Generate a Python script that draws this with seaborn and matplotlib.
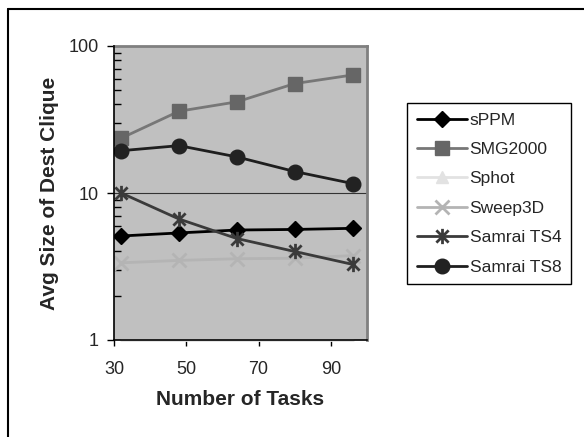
import numpy as np
import pandas as pd
import matplotlib
matplotlib.use("Agg")
import matplotlib.pyplot as plt
from matplotlib.path import Path
from matplotlib.lines import Line2D
from matplotlib.ticker import LogLocator, FixedLocator, NullFormatter
import seaborn as sns

# ---- data -------------------------------------------------------------
tasks = [32, 48, 64, 80, 96]
sppm = [5.1, 5.35, 5.6, 5.65, 5.75]
smg2000 = [23.6, 36.0, 41.7, 55.5, 63.5]
sphot = [1.0, 1.0, 1.0, 1.0, 1.0]
sweep3d = [3.35, 3.48, 3.57, 3.6, 3.75]
samrai_ts4 = [10.0, 6.65, 4.9, 4.0, 3.27]
samrai_ts8 = [19.4, 21.0, 17.6, 14.0, 11.6]

series_names = ["sPPM", "SMG2000", "Sphot", "Sweep3D", "Samrai TS4", "Samrai TS8"]
series_values = [sppm, smg2000, sphot, sweep3d, samrai_ts4, samrai_ts8]
x_ticks = [30, 50, 70, 90]
y_ticks = [1, 10, 100]

# asterisk marker: an "x" with a vertical bar through it
asterisk = Path(
    [(-1, -1), (1, 1), (-1, 1), (1, -1), (0, -1.25), (0, 1.25)],
    [Path.MOVETO, Path.LINETO, Path.MOVETO, Path.LINETO, Path.MOVETO, Path.LINETO],
)

styles = {
    "sPPM":       dict(color="#000000", marker="D", ms=8.5, mew=1.0, mfc="#000000"),
    "SMG2000":    dict(color="#777777", marker="s", ms=10, mew=1.0, mfc="#666666"),
    "Sphot":      dict(color="#e2e2e2", marker="^", ms=9, mew=1.0, mfc="#e2e2e2"),
    "Sweep3D":    dict(color="#b4b4b4", marker="x", ms=10, mew=2.0, mfc="none"),
    "Samrai TS4": dict(color="#3a3a3a", marker=asterisk, ms=11, mew=2.0, mfc="none"),
    "Samrai TS8": dict(color="#1e1e1e", marker="o", ms=10.5, mew=1.0, mfc="#222222"),
}

df = pd.DataFrame(
    [(n, t, v) for n, vals in zip(series_names, series_values) for t, v in zip(tasks, vals)],
    columns=["series", "tasks", "value"],
)

# ---- figure -----------------------------------------------------------
sns.set_theme(style="white")
plt.rcParams["font.family"] = ["Liberation Sans", "DejaVu Sans"]

fig = plt.figure(figsize=(5.84, 4.37), dpi=100)
ax = fig.add_axes([114 / 584, 1 - 340 / 437, 253 / 584, 294 / 437])
ax.set_facecolor("#c0c0c0")

for name in series_names:
    st = styles[name]
    sub = df[df["series"] == name]
    sns.lineplot(
        data=sub, x="tasks", y="value", ax=ax, label=name,
        color=st["color"], marker=st["marker"], markersize=st["ms"],
        markeredgewidth=st["mew"], markeredgecolor=st["color"] if st["mfc"] == "none" else st["mfc"],
        markerfacecolor=st["mfc"], linewidth=2.0, errorbar=None,
        clip_on=(name != "Sphot"), zorder=3,
    )

ax.set_yscale("log")
ax.set_xlim(30, 100)
ax.set_ylim(1, 100)
ax.xaxis.set_major_locator(FixedLocator(x_ticks))
ax.yaxis.set_major_locator(FixedLocator(y_ticks))
ax.yaxis.set_minor_locator(LogLocator(base=10, subs=np.arange(2, 10)))
ax.yaxis.set_minor_formatter(NullFormatter())
ax.set_yticklabels([str(v) for v in y_ticks])
ax.set_xticklabels([str(v) for v in x_ticks])

ax.tick_params(axis="x", which="major", direction="out", length=4, width=1,
               color="black", labelsize=13, pad=11, bottom=True)
ax.tick_params(axis="y", which="major", direction="out", length=5, width=1,
               color="black", labelsize=13, pad=6, left=True)
ax.tick_params(axis="y", which="minor", direction="in", length=5, width=1,
               color="black", left=True)

ax.grid(False)
ax.axhline(10, color="#333333", linewidth=0.8, zorder=1)

for side in ("left", "bottom"):
    ax.spines[side].set_color("black")
    ax.spines[side].set_linewidth(1.2)
    ax.spines[side].set_zorder(4)
for side in ("top", "right"):
    ax.spines[side].set_color("#808080")
    ax.spines[side].set_linewidth(2.0)

ax.set_xlabel("Number of Tasks", fontsize=15, fontweight="bold", labelpad=9)
ax.set_ylabel("Avg Size of Dest Clique", fontsize=15, fontweight="bold", labelpad=7)

leg = ax.legend(
    loc="upper left", bbox_to_anchor=(407 / 584, 1 - 103 / 437),
    bbox_transform=fig.transFigure, fontsize=12.5, frameon=True, fancybox=False,
    edgecolor="black", facecolor="white", framealpha=1.0, borderpad=0.55,
    labelspacing=0.82, handlelength=2.9, handletextpad=0.15, borderaxespad=0,
)
leg.get_frame().set_linewidth(1.0)

# Sphot sits on the lower axis limit: keep its triangle in the legend only
ax.lines[series_names.index("Sphot")].set_markevery([])

# outer chart border (top and left edges)
fig.add_artist(Line2D([8 / 584, 1.0], [1 - 9 / 437, 1 - 9 / 437], transform=fig.transFigure,
                      color="black", linewidth=1.5))
fig.add_artist(Line2D([8 / 584, 8 / 584], [0.0, 1 - 9 / 437], transform=fig.transFigure,
                      color="black", linewidth=1.5))

fig.savefig("out.png", dpi=100, facecolor="white")
